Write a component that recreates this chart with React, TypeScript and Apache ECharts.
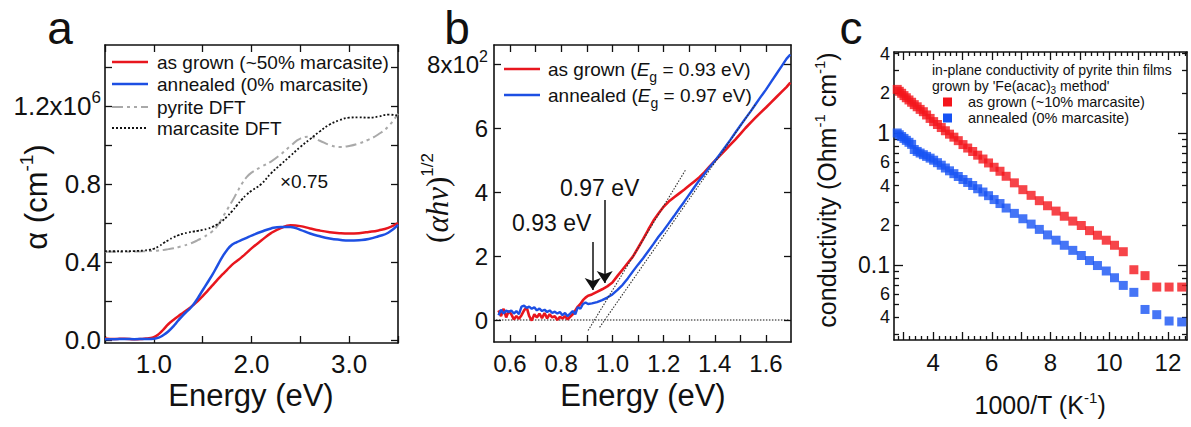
import React, { useEffect, useRef } from "react";
import * as echarts from "echarts";

const FONT = "'Liberation Sans', Arial, Helvetica, sans-serif";
const SERIF = "'Liberation Serif', 'DejaVu Serif', serif";
const INK = "#111";
const RED = "#e8161e";
const BLUE = "#1d4fe3";
const GRAY = "#a9a9a9";
const SQ_RED = "#f4151b";
const SQ_BLUE = "#1652f4";

// ---------- Panel a : absorption coefficient ----------
const energyA = [0.5, 0.6, 0.7, 0.8, 0.9, 0.95, 1.0, 1.05, 1.1, 1.15, 1.2, 1.25, 1.3, 1.35, 1.4, 1.45, 1.5, 1.55, 1.6, 1.65, 1.7, 1.75, 1.8, 1.85, 1.9, 1.95, 2.0, 2.1, 2.2, 2.3, 2.4, 2.5, 2.6, 2.7, 2.8, 2.9, 3.0, 3.1, 3.2, 3.3, 3.4, 3.5];
const asGrownA = [0.008, 0.005, 0.007, 0.004, 0.007, 0.009, 0.014, 0.03, 0.055, 0.082, 0.103, 0.122, 0.14, 0.158, 0.178, 0.2, 0.225, 0.252, 0.28, 0.308, 0.335, 0.36, 0.385, 0.405, 0.425, 0.447, 0.47, 0.51, 0.548, 0.574, 0.588, 0.584, 0.572, 0.561, 0.553, 0.548, 0.546, 0.548, 0.554, 0.562, 0.575, 0.6];
const annealedA = [0.004, 0.004, 0.005, 0.004, 0.005, 0.005, 0.006, 0.012, 0.026, 0.045, 0.07, 0.1, 0.128, 0.152, 0.178, 0.215, 0.255, 0.295, 0.335, 0.38, 0.425, 0.462, 0.488, 0.502, 0.513, 0.524, 0.535, 0.555, 0.572, 0.58, 0.579, 0.565, 0.546, 0.532, 0.521, 0.514, 0.51, 0.512, 0.518, 0.532, 0.55, 0.59];
const pyriteDftA = [0.453, 0.453, 0.453, 0.454, 0.455, 0.456, 0.457, 0.459, 0.462, 0.466, 0.47, 0.476, 0.483, 0.491, 0.5, 0.512, 0.525, 0.54, 0.558, 0.585, 0.625, 0.668, 0.71, 0.755, 0.8, 0.835, 0.858, 0.888, 0.915, 0.952, 0.995, 1.033, 1.042, 1.022, 1.0, 0.99, 0.995, 1.008, 1.028, 1.055, 1.095, 1.16];
const marcasiteDftA = [0.455, 0.455, 0.455, 0.456, 0.459, 0.462, 0.468, 0.48, 0.497, 0.512, 0.526, 0.537, 0.545, 0.551, 0.556, 0.56, 0.565, 0.571, 0.58, 0.593, 0.61, 0.633, 0.66, 0.69, 0.72, 0.745, 0.765, 0.8, 0.855, 0.9, 0.945, 0.99, 1.03, 1.07, 1.105, 1.127, 1.14, 1.142, 1.14, 1.146, 1.156, 1.15];
const aXTicks = [0.5, 1.0, 1.5, 2.0, 2.5, 3.0, 3.5];
const aXLabels = [1.0, 2.0, 3.0];
const aYTicks = [0, 0.2, 0.4, 0.6, 0.8, 1.0, 1.2, 1.4];
const aYLabels = [0, 0.4, 0.8, 1.2];

// ---------- Panel b : Tauc plot ----------
const energyB = [0.555, 0.565, 0.575, 0.585, 0.595, 0.605, 0.615, 0.625, 0.635, 0.645, 0.655, 0.665, 0.675, 0.685, 0.695, 0.705, 0.715, 0.725, 0.735, 0.745, 0.755, 0.765, 0.775, 0.785, 0.795, 0.805, 0.815, 0.825, 0.835, 0.845, 0.855, 0.865, 0.875,
  0.885, 0.895, 0.905, 0.92, 0.94, 0.96, 0.98, 1.0, 1.02, 1.04, 1.06, 1.08, 1.1, 1.12, 1.14, 1.16, 1.18, 1.2, 1.22, 1.24, 1.26, 1.28, 1.3, 1.32, 1.34, 1.36, 1.38, 1.4, 1.42, 1.44, 1.46, 1.48, 1.5, 1.52, 1.54, 1.56, 1.58, 1.6, 1.62, 1.64, 1.66, 1.68, 1.695];
const asGrownB = [0.3, 0.12, 0.35, 0.08, 0.28, 0.18, 0.02, 0.12, 0.04, 0.15, 0.3, 0.4, 0.12, -0.02, 0.18, 0.08, 0.2, 0.06, 0.22, 0.05, 0.18, 0.08, 0.12, 0.0, 0.1, 0.05, 0.12, 0.02, 0.1, 0.18, 0.3, 0.42, 0.5,
  0.62, 0.7, 0.76, 0.8, 0.88, 0.96, 1.05, 1.17, 1.38, 1.58, 1.78, 1.98, 2.25, 2.53, 2.82, 3.1, 3.33, 3.54, 3.7, 3.83, 3.95, 4.07, 4.2, 4.33, 4.46, 4.62, 4.8, 4.97, 5.14, 5.3, 5.47, 5.64, 5.82, 6.0, 6.17, 6.33, 6.49, 6.64, 6.8, 6.96, 7.12, 7.28, 7.42];
const annealedB = [0.15, 0.32, 0.2, 0.3, 0.25, 0.3, 0.2, 0.28, 0.18, 0.42, 0.45, 0.38, 0.42, 0.35, 0.4, 0.3, 0.36, 0.28, 0.32, 0.25, 0.3, 0.22, 0.26, 0.2, 0.25, 0.15, 0.22, 0.12, 0.2, 0.28, 0.18, 0.4, 0.35,
  0.5, 0.55, 0.5, 0.52, 0.56, 0.62, 0.7, 0.8, 0.94, 1.1, 1.3, 1.52, 1.73, 1.93, 2.15, 2.37, 2.6, 2.8, 3.02, 3.24, 3.47, 3.69, 3.92, 4.15, 4.37, 4.57, 4.78, 4.97, 5.18, 5.4, 5.62, 5.85, 6.08, 6.3, 6.52, 6.75, 6.98, 7.2, 7.44, 7.68, 7.92, 8.16, 8.3];
const fitAsGrownX = [0.905, 1.285];
const fitAsGrownY = [-0.33, 4.68];
const fitAnnealedX = [0.95, 1.56];
const fitAnnealedY = [-0.23, 6.75];
const baselineX = [0.545, 1.69];
const baselineY = [0, 0];
const gapArrowsE = [0.923, 0.97];
const gapArrowTop = [2.44, 3.75];
const gapArrowTip = [0.94, 1.16];
const bXTicks = [0.6, 0.7, 0.8, 0.9, 1.0, 1.1, 1.2, 1.3, 1.4, 1.5, 1.6];
const bXLabels = [0.6, 0.8, 1.0, 1.2, 1.4, 1.6];
const bYTicks = [0, 2, 4, 6, 8];
const bYLabels = [0, 2, 4, 6, 8];

// ---------- Panel c : conductivity ----------
const invT = [2.78, 2.85, 2.93, 3.01, 3.09, 3.18, 3.27, 3.36, 3.46, 3.56, 3.67, 3.78, 3.9, 4.02, 4.15, 4.28, 4.42, 4.56, 4.71, 4.86, 5.02, 5.18, 5.35, 5.52, 5.7, 5.89, 6.08, 6.28, 6.49, 6.77, 7.06, 7.34, 7.62, 7.9, 8.19, 8.47, 8.76, 9.05, 9.33, 9.6, 9.9, 10.18, 10.48, 10.84, 11.22, 11.62, 12.04, 12.47];
const sigmaAsGrown = [2.14, 2.07, 2.0, 1.92, 1.85, 1.78, 1.71, 1.64, 1.58, 1.51, 1.45, 1.37, 1.29, 1.22, 1.16, 1.1, 1.04, 0.98, 0.93, 0.875, 0.817, 0.769, 0.724, 0.679, 0.635, 0.593, 0.55, 0.513, 0.47, 0.419, 0.372, 0.337, 0.307, 0.281, 0.256, 0.234, 0.215, 0.199, 0.182, 0.168, 0.154, 0.141, 0.126, 0.092, 0.083, 0.068, 0.068, 0.068];
const sigmaAnnealed = [1.0, 0.97, 0.94, 0.91, 0.88, 0.85, 0.82, 0.75, 0.725, 0.705, 0.685, 0.665, 0.645, 0.622, 0.596, 0.57, 0.543, 0.517, 0.492, 0.468, 0.444, 0.422, 0.4, 0.378, 0.357, 0.335, 0.313, 0.292, 0.27, 0.246, 0.224, 0.204, 0.186, 0.169, 0.154, 0.141, 0.129, 0.118, 0.108, 0.099, 0.09, 0.08, 0.07, 0.062, 0.046, 0.042, 0.0376, 0.037];
const cXMajor = [3, 4, 5, 6, 7, 8, 9, 10, 11, 12];
const cXLabels = [4, 6, 8, 10, 12];
const cYMajor = [0.1, 1];
const cYMinor = [0.03, 0.04, 0.05, 0.06, 0.07, 0.08, 0.09, 0.2, 0.3, 0.4, 0.5, 0.6, 0.7, 0.8, 0.9, 2, 3, 4];
const cYLabels = [0.04, 0.06, 0.1, 0.2, 0.4, 0.6, 1, 2, 4];
const cYLabelText = ["4", "6", "{big|0.1}", "2", "4", "6", "{big|1}", "2", "4"];

const cXMinor: number[] = [];
for (let k = 14; k <= 63; k++) {
  if (k % 5 !== 0) cXMinor.push(+(k * 0.2).toFixed(1));
}

function zip(xs: number[], ys: number[]) {
  return xs.map((x, i) => [x, ys[i]]);
}

type Spec = {
  grid: number;
  type?: "value" | "log";
  min: number;
  max: number;
  major: number[];
  minor?: number[];
  labels?: number[];
  fmt?: (v: number) => string;
  labelSize: number;
  margin: number;
  rich?: any;
  majorLen: number;
  minorLen?: number;
};

function makeAxes(dim: "x" | "y", s: Spec) {
  const pos = dim === "x" ? ["bottom", "top"] : ["left", "right"];
  const base = (position: string, ticks: number[], len: number, withLabel: boolean, showLine: boolean) => {
    const ax: any = {
      type: s.type || "value",
      gridIndex: s.grid,
      min: s.min,
      max: s.max,
      position,
      axisLine: { show: showLine, onZero: false, lineStyle: { color: INK, width: 1.6 } },
      axisTick: {
        show: ticks.length > 0,
        inside: true,
        length: len,
        customValues: ticks,
        lineStyle: { color: INK, width: 1.3 },
      },
      axisLabel: withLabel
        ? {
            show: true,
            customValues: s.labels,
            formatter: s.fmt,
            fontSize: s.labelSize,
            fontFamily: FONT,
            color: INK,
            margin: s.margin,
            rich: s.rich,
          }
        : { show: false },
      splitLine: { show: false },
      minorTick: { show: false },
      minorSplitLine: { show: false },
      silent: true,
    };
    if (s.type === "log") ax.logBase = 10;
    return ax;
  };
  const minor = s.minor || [];
  const out = [
    base(pos[0], s.major, s.majorLen, true, true),
    base(pos[1], s.major, s.majorLen, false, true),
  ];
  if (minor.length) {
    out.push(base(pos[0], minor, s.minorLen || 4, false, false));
    out.push(base(pos[1], minor, s.minorLen || 4, false, false));
  }
  return out;
}

const supRich = (size: number) => ({
  sup: { fontSize: size, fontFamily: FONT, color: INK, verticalAlign: "top", lineHeight: size * 2 },
});

export default function App() {
  const ref = useRef<HTMLDivElement>(null);

  useEffect(() => {
    if (!ref.current) return;
    const chart = echarts.init(ref.current, undefined, { renderer: "svg" });

    const xAxes: any[] = [];
    const yAxes: any[] = [];
    const idx: { x: number; y: number }[] = [];

    const addGrid = (xs: Spec, ys: Spec) => {
      idx.push({ x: xAxes.length, y: yAxes.length });
      xAxes.push(...makeAxes("x", xs));
      yAxes.push(...makeAxes("y", ys));
    };

    // Panel a
    addGrid(
      { grid: 0, min: 0.5, max: 3.5, major: aXTicks, labels: aXLabels, fmt: (v) => v.toFixed(1), labelSize: 26, margin: 8, majorLen: 7 },
      {
        grid: 0, min: -0.0154, max: 1.5128, major: aYTicks, labels: aYLabels,
        fmt: (v) => (Math.abs(v - 1.2) < 1e-6 ? "1.2x10{sup|6}" : v.toFixed(1)),
        labelSize: 26, margin: 4, majorLen: 7, rich: supRich(17),
      }
    );
    // Panel b
    addGrid(
      { grid: 1, min: 0.5375, max: 1.6977, major: bXTicks, labels: bXLabels, fmt: (v) => v.toFixed(1), labelSize: 24, margin: 9, majorLen: 7 },
      {
        grid: 1, min: -0.6875, max: 8.594, major: bYTicks, labels: bYLabels,
        fmt: (v) => (Math.abs(v - 8) < 1e-6 ? "8x10{sup|2}" : String(Math.round(v))),
        labelSize: 24, margin: 6, majorLen: 7, rich: supRich(16),
      }
    );
    // Panel c
    addGrid(
      { grid: 2, min: 2.67, max: 12.65, major: cXMajor, minor: cXMinor, labels: cXLabels, fmt: (v) => String(Math.round(v)), labelSize: 24, margin: 10, majorLen: 8, minorLen: 4 },
      {
        grid: 2, type: "log", min: 0.027, max: 4.11, major: cYMajor, minor: cYMinor, labels: cYLabels,
        fmt: (v) => {
          for (let i = 0; i < cYLabels.length; i++) {
            if (Math.abs(Math.log10(v / cYLabels[i])) < 0.01) return cYLabelText[i];
          }
          return "";
        },
        labelSize: 18, margin: 4, majorLen: 9, minorLen: 5,
        rich: { big: { fontSize: 23, fontFamily: FONT, color: INK } },
      }
    );

    const lineSeries = (g: number, name: string, xs: number[], ys: number[], style: any, smooth = true, z = 2) => ({
      type: "line",
      name,
      xAxisIndex: idx[g].x,
      yAxisIndex: idx[g].y,
      data: zip(xs, ys),
      showSymbol: false,
      smooth,
      lineStyle: style,
      z,
      silent: true,
    });

    const legendLine = (x: number, y: number, style: any) => ({
      type: "line",
      shape: { x1: x, y1: y, x2: x + 36, y2: y },
      style: { fill: null, ...style },
    });
    const txt = (x: number, y: number, text: string, size: number, extra: any = {}) => ({
      type: "text",
      x,
      y,
      style: { text, fontSize: size, fontFamily: FONT, fill: INK, verticalAlign: "middle", align: "left", ...extra },
    });

    const option: any = {
      animation: false,
      textStyle: { fontFamily: FONT },
      grid: [
        { left: 105, top: 45, width: 293, height: 298 },
        { left: 494, top: 45, width: 297, height: 297 },
        { left: 894, top: 52, width: 293, height: 288 },
      ],
      xAxis: xAxes,
      yAxis: yAxes,
      series: [
        lineSeries(0, "pyrite DFT", energyA, pyriteDftA, { color: GRAY, width: 2, type: [11, 4, 3, 4, 3, 4] }),
        lineSeries(0, "marcasite DFT", energyA, marcasiteDftA, { color: INK, width: 1.8, type: [2, 2] }),
        lineSeries(0, "as grown (~50% marcasite)", energyA, asGrownA, { color: RED, width: 2.5 }),
        lineSeries(0, "annealed (0% marcasite)", energyA, annealedA, { color: BLUE, width: 2.5 }),

        {
          ...lineSeries(1, "baseline", baselineX, baselineY, { color: INK, width: 1.2, type: [1.5, 1.5] }, false, 1),
          markLine: {
            silent: true,
            symbol: ["none", "arrow"],
            symbolSize: 12,
            label: { show: false },
            lineStyle: { color: INK, width: 1.5, type: "solid" },
            data: gapArrowsE.map((e, i) => [{ coord: [e, gapArrowTop[i]] }, { coord: [e, gapArrowTip[i]] }]),
          },
        },
        lineSeries(1, "fit as grown", fitAsGrownX, fitAsGrownY, { color: "#333", width: 1.1, type: [1.5, 1.5] }, false, 5),
        lineSeries(1, "fit annealed", fitAnnealedX, fitAnnealedY, { color: "#333", width: 1.1, type: [1.5, 1.5] }, false, 5),
        lineSeries(1, "as grown (Eg = 0.93 eV)", energyB, asGrownB, { color: RED, width: 2.6 }, false, 3),
        lineSeries(1, "annealed (Eg = 0.97 eV)", energyB, annealedB, { color: BLUE, width: 2.4 }, false, 4),

        {
          type: "scatter",
          name: "as grown (~10% marcasite)",
          xAxisIndex: idx[2].x,
          yAxisIndex: idx[2].y,
          data: zip(invT, sigmaAsGrown),
          symbol: "rect",
          symbolSize: 9,
          itemStyle: { color: SQ_RED },
          silent: true,
        },
        {
          type: "scatter",
          name: "annealed (0% marcasite)",
          xAxisIndex: idx[2].x,
          yAxisIndex: idx[2].y,
          data: zip(invT, sigmaAnnealed),
          symbol: "rect",
          symbolSize: 9,
          itemStyle: { color: SQ_BLUE },
          silent: true,
        },
      ],
      graphic: {
        elements: [
          // panel letters
          txt(60, 28, "a", 46, { align: "center" }),
          txt(457, 28, "b", 46, { align: "center" }),
          txt(851, 28, "c", 46, { align: "center" }),

          // panel a legend
          legendLine(112, 62, { stroke: RED, lineWidth: 2.5 }),
          txt(157, 62, "as grown (~50% marcasite)", 19),
          legendLine(112, 84, { stroke: BLUE, lineWidth: 2.5 }),
          txt(157, 84, "annealed (0% marcasite)", 19),
          legendLine(112, 107, { stroke: GRAY, lineWidth: 2, lineDash: [11, 4, 3, 4, 3, 4] }),
          txt(157, 107, "pyrite DFT", 19),
          legendLine(112, 128, { stroke: INK, lineWidth: 1.8, lineDash: [2, 2] }),
          txt(157, 128, "marcasite DFT", 19),
          txt(280, 181, "×0.75", 19),

          // panel a axis titles
          txt(251, 395, "Energy (eV)", 31, { align: "center" }),
          {
            type: "text",
            x: 36,
            y: 197,
            rotation: Math.PI / 2,
            style: {
              text: "α (cm{sup|-1})",
              fontSize: 31,
              fontFamily: FONT,
              fill: INK,
              align: "center",
              verticalAlign: "middle",
              rich: supRich(19),
            },
          },

          // panel b legend
          legendLine(504, 69, { stroke: RED, lineWidth: 2.6 }),
          {
            type: "text",
            x: 548,
            y: 69,
            style: {
              text: "as grown ({it|E}{sub|g} = 0.93 eV)",
              fontSize: 19,
              fontFamily: FONT,
              fill: INK,
              verticalAlign: "middle",
              rich: {
                it: { fontSize: 19, fontFamily: FONT, fontStyle: "italic", fill: INK },
                sub: { fontSize: 14, fontFamily: FONT, fill: INK, verticalAlign: "bottom", lineHeight: 30 },
              },
            },
          },
          legendLine(504, 95, { stroke: BLUE, lineWidth: 2.4 }),
          {
            type: "text",
            x: 548,
            y: 95,
            style: {
              text: "annealed ({it|E}{sub|g} = 0.97 eV)",
              fontSize: 19,
              fontFamily: FONT,
              fill: INK,
              verticalAlign: "middle",
              rich: {
                it: { fontSize: 19, fontFamily: FONT, fontStyle: "italic", fill: INK },
                sub: { fontSize: 14, fontFamily: FONT, fill: INK, verticalAlign: "bottom", lineHeight: 30 },
              },
            },
          },
          txt(512, 223, "0.93 eV", 23),
          txt(560, 188, "0.97 eV", 23),

          // panel b axis titles
          txt(643, 395, "Energy (eV)", 31, { align: "center" }),
          {
            type: "text",
            x: 437,
            y: 198,
            rotation: Math.PI / 2,
            style: {
              text: "({it|αhν}){sup|1/2}",
              fontSize: 31,
              fontFamily: SERIF,
              fill: INK,
              align: "center",
              verticalAlign: "middle",
              rich: {
                it: { fontSize: 31, fontFamily: SERIF, fontStyle: "italic", fill: INK },
                sup: { fontSize: 17, fontFamily: FONT, fill: INK, verticalAlign: "top", lineHeight: 36 },
              },
            },
          },

          // panel c legend
          txt(932, 70, "in-plane conductivity of pyrite thin films", 14),
          {
            type: "text",
            x: 932,
            y: 86,
            style: {
              text: "grown by 'Fe(acac){sub|3} method'",
              fontSize: 14,
              fontFamily: FONT,
              fill: INK,
              verticalAlign: "middle",
              rich: { sub: { fontSize: 10, fontFamily: FONT, fill: INK, verticalAlign: "bottom", lineHeight: 18 } },
            },
          },
          { type: "rect", shape: { x: 943, y: 97.5, width: 9, height: 9 }, style: { fill: SQ_RED } },
          txt(968, 102, "as grown (~10% marcasite)", 14.5),
          { type: "rect", shape: { x: 943, y: 113.5, width: 9, height: 9 }, style: { fill: SQ_BLUE } },
          txt(968, 118, "annealed (0% marcasite)", 14.5),

          // panel c axis titles
          {
            type: "text",
            x: 1040,
            y: 405,
            style: {
              text: "1000/T (K{sup|-1})",
              fontSize: 25,
              fontFamily: FONT,
              fill: INK,
              align: "center",
              verticalAlign: "middle",
              rich: supRich(15),
            },
          },
          {
            type: "text",
            x: 827,
            y: 190,
            rotation: Math.PI / 2,
            style: {
              text: "conductivity (Ohm{sup|-1} cm{sup|-1})",
              fontSize: 25,
              fontFamily: FONT,
              fill: INK,
              align: "center",
              verticalAlign: "middle",
              rich: supRich(15),
            },
          },
        ],
      },
    };

    chart.setOption(option);
    return () => chart.dispose();
  }, []);

  return (
    <div
      ref={ref}
      style={{ position: "fixed", left: 0, top: 0, width: 1191, height: 427, background: "#fff" }}
    />
  );
}
